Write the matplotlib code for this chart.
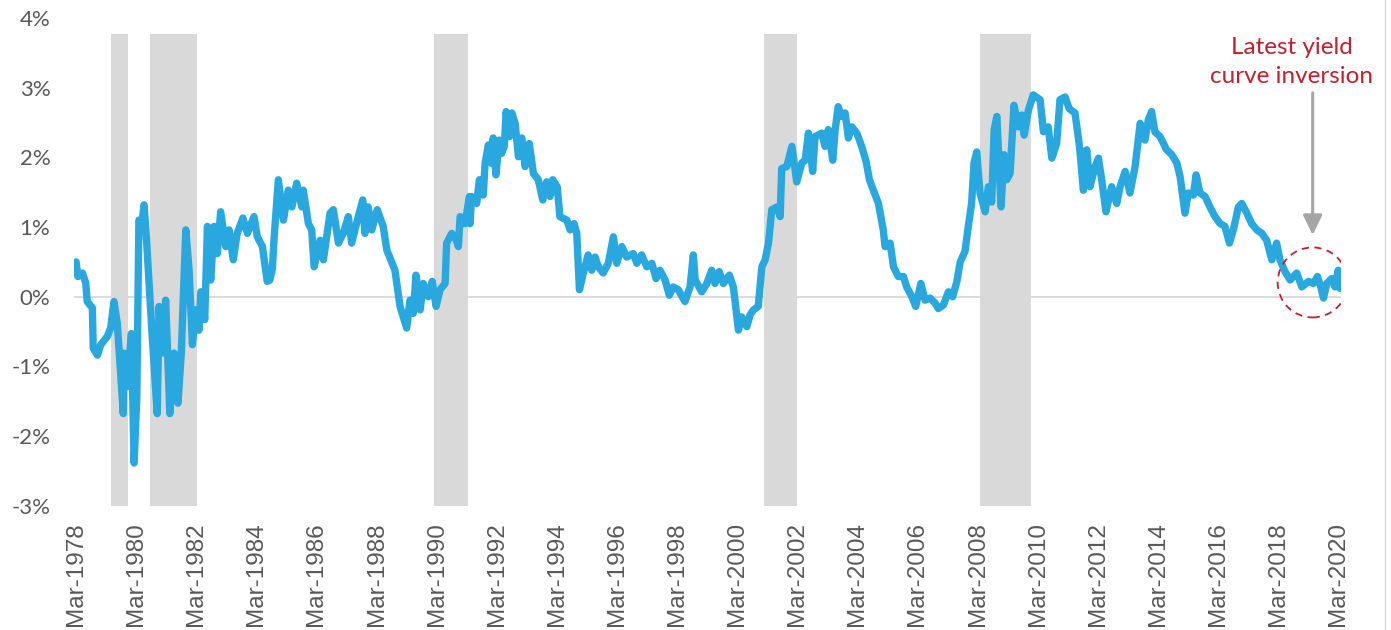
import matplotlib.pyplot as plt
from matplotlib.patches import Ellipse
from matplotlib.lines import Line2D
from matplotlib.ticker import FuncFormatter

# spread (%), x in decimal years
years = [
    1978.17, 1978.23, 1978.38, 1978.49, 1978.54, 1978.71, 1978.74, 1978.88, 1978.99, 1979.21,
    1979.32, 1979.43, 1979.54, 1979.60, 1979.74, 1979.76, 1979.87, 1980.01, 1980.10, 1980.19,
    1980.26, 1980.35, 1980.43, 1980.49, 1980.60, 1980.71, 1980.87, 1980.93, 1981.04, 1981.15,
    1981.29, 1981.43, 1981.56, 1981.67, 1981.82, 1981.93, 1982.04, 1982.15, 1982.26, 1982.32,
    1982.45, 1982.54, 1982.65, 1982.76, 1982.87, 1982.98, 1983.15, 1983.26, 1983.40, 1983.53,
    1983.72, 1983.87, 1984.09, 1984.20, 1984.37, 1984.53, 1984.62, 1984.70, 1984.76, 1984.90,
    1985.07, 1985.23, 1985.35, 1985.51, 1985.68, 1985.73, 1985.90, 1986.01, 1986.09, 1986.29,
    1986.40, 1986.62, 1986.73, 1986.90, 1987.06, 1987.23, 1987.34, 1987.56, 1987.71, 1987.78,
    1987.89, 1988.01, 1988.19, 1988.39, 1988.51, 1988.78, 1988.95, 1989.17, 1989.28, 1989.39,
    1989.48, 1989.62, 1989.72, 1989.89, 1990.02, 1990.15, 1990.28, 1990.45, 1990.50, 1990.67,
    1990.78, 1990.89, 1990.95, 1991.11, 1991.26, 1991.28, 1991.33, 1991.50, 1991.59, 1991.72,
    1991.78, 1991.89, 1991.97, 1992.05, 1992.14, 1992.25, 1992.33, 1992.42, 1992.48, 1992.59,
    1992.67, 1992.78, 1992.89, 1993.00, 1993.11, 1993.25, 1993.39, 1993.55, 1993.70, 1993.83,
    1993.94, 1994.03, 1994.18, 1994.27, 1994.50, 1994.61, 1994.74, 1994.83, 1994.92, 1995.05,
    1995.21, 1995.33, 1995.44, 1995.55, 1995.71, 1995.88, 1996.05, 1996.16, 1996.33, 1996.49,
    1996.71, 1996.83, 1996.99, 1997.16, 1997.33, 1997.47, 1997.60, 1997.77, 1997.91, 1998.04,
    1998.21, 1998.43, 1998.60, 1998.71, 1998.77, 1998.99, 1999.16, 1999.32, 1999.43, 1999.57,
    1999.71, 1999.91, 2000.04, 2000.10, 2000.21, 2000.32, 2000.49, 2000.60, 2000.71, 2000.87,
    2000.99, 2001.10, 2001.21, 2001.32, 2001.49, 2001.60, 2001.65, 2001.82, 2001.99, 2002.15,
    2002.32, 2002.43, 2002.54, 2002.68, 2002.76, 2002.98, 2003.09, 2003.20, 2003.35, 2003.43,
    2003.53, 2003.65, 2003.76, 2003.87, 2003.98, 2004.15, 2004.31, 2004.46, 2004.57, 2004.70,
    2004.87, 2005.03, 2005.09, 2005.26, 2005.37, 2005.53, 2005.70, 2005.81, 2005.98, 2006.11,
    2006.28, 2006.42, 2006.59, 2006.75, 2006.86, 2007.03, 2007.20, 2007.34, 2007.48, 2007.59,
    2007.75, 2007.86, 2007.97, 2008.05, 2008.14, 2008.25, 2008.42, 2008.53, 2008.64, 2008.72,
    2008.81, 2008.95, 2009.05, 2009.14, 2009.25, 2009.38, 2009.53, 2009.64, 2009.72, 2009.86,
    2010.02, 2010.25, 2010.36, 2010.52, 2010.64, 2010.80, 2010.91, 2011.08, 2011.22, 2011.41,
    2011.56, 2011.69, 2011.80, 2011.91, 2012.08, 2012.19, 2012.30, 2012.44, 2012.63, 2012.80,
    2012.91, 2013.08, 2013.24, 2013.41, 2013.58, 2013.74, 2013.85, 2013.96, 2014.07, 2014.24,
    2014.46, 2014.63, 2014.80, 2014.91, 2015.07, 2015.18, 2015.35, 2015.44, 2015.57, 2015.74,
    2015.90, 2016.07, 2016.24, 2016.40, 2016.55, 2016.68, 2016.85, 2016.96, 2017.13, 2017.29,
    2017.46, 2017.63, 2017.79, 2017.96, 2018.12, 2018.23, 2018.40, 2018.57, 2018.79, 2018.96,
    2019.18, 2019.34, 2019.48, 2019.59, 2019.68, 2019.79, 2019.95, 2020.06, 2020.17, 2020.23,
]
spread = [
    0.50, 0.29, 0.34, 0.20, -0.07, -0.16, -0.74, -0.84, -0.69, -0.57,
    -0.45, -0.07, -0.38, -0.77, -1.68, -0.81, -1.29, -0.53, -2.39, -1.44,
    1.10, 1.01, 1.32, 0.98, 0.19, -0.62, -1.68, -0.14, -0.81, -0.05,
    -1.68, -0.81, -1.53, -0.81, 0.96, 0.38, -0.69, -0.19, -0.48, 0.07,
    -0.33, 1.01, 0.24, 1.01, 0.62, 1.22, 0.72, 0.96, 0.53, 0.91,
    1.13, 0.91, 1.15, 0.86, 0.72, 0.22, 0.24, 0.40, 0.85, 1.68,
    1.10, 1.53, 1.29, 1.63, 1.29, 1.53, 1.05, 0.96, 0.43, 0.81,
    0.53, 1.20, 1.25, 0.77, 0.91, 1.15, 0.77, 1.15, 1.39, 0.91,
    1.29, 0.96, 1.25, 1.01, 0.67, 0.38, -0.14, -0.45, -0.05, -0.24,
    0.31, -0.19, 0.19, 0.00, 0.22, -0.14, 0.10, 0.19, 0.77, 0.91,
    0.86, 0.72, 1.15, 1.05, 1.44, 1.05, 1.44, 1.34, 1.68, 1.46,
    1.92, 2.18, 1.92, 2.28, 1.75, 2.25, 2.06, 2.16, 2.66, 2.30,
    2.64, 2.49, 2.01, 2.28, 1.87, 2.20, 1.77, 1.68, 1.39, 1.65,
    1.44, 1.68, 1.58, 1.15, 1.10, 0.96, 1.05, 0.91, 0.10, 0.34,
    0.60, 0.38, 0.57, 0.43, 0.34, 0.48, 0.86, 0.48, 0.72, 0.57,
    0.62, 0.48, 0.60, 0.43, 0.48, 0.26, 0.38, 0.24, 0.02, 0.14,
    0.10, -0.07, 0.14, 0.60, 0.24, 0.07, 0.19, 0.38, 0.19, 0.36,
    0.19, 0.31, 0.14, -0.07, -0.48, -0.29, -0.43, -0.26, -0.19, -0.14,
    0.43, 0.53, 0.77, 1.25, 1.29, 1.15, 1.84, 1.87, 2.16, 1.65,
    1.92, 1.96, 2.35, 1.80, 2.30, 2.35, 2.16, 2.40, 1.96, 2.40,
    2.73, 2.59, 2.64, 2.28, 2.44, 2.35, 2.16, 1.94, 1.68, 1.53,
    1.34, 0.96, 0.72, 0.77, 0.43, 0.29, 0.29, 0.14, 0.00, -0.14,
    0.19, -0.05, -0.02, -0.09, -0.17, -0.12, 0.07, 0.00, 0.22, 0.50,
    0.65, 1.01, 1.34, 1.92, 2.08, 1.49, 1.22, 1.58, 1.36, 2.40,
    2.59, 1.29, 2.04, 1.68, 1.77, 2.75, 2.44, 2.61, 2.32, 2.68,
    2.90, 2.83, 2.37, 2.44, 1.99, 2.20, 2.83, 2.87, 2.70, 2.64,
    2.16, 1.53, 2.11, 1.58, 1.87, 1.99, 1.68, 1.22, 1.58, 1.34,
    1.58, 1.80, 1.49, 1.87, 2.49, 2.25, 2.54, 2.66, 2.37, 2.30,
    2.11, 2.04, 1.92, 1.72, 1.20, 1.49, 1.46, 1.75, 1.49, 1.44,
    1.29, 1.15, 1.05, 1.01, 0.77, 0.96, 1.29, 1.34, 1.20, 1.05,
    0.96, 0.91, 0.81, 0.53, 0.77, 0.53, 0.36, 0.24, 0.34, 0.14,
    0.22, 0.19, 0.29, 0.14, -0.02, 0.19, 0.26, 0.14, 0.38, 0.12,
]

recessions = [(1979.33, 1979.90), (1980.63, 1982.20), (1990.09, 1991.20),
              (2001.07, 2002.17), (2008.26, 2009.94)]
recession_top = 3.77

tick_labels = ['Mar-1978', 'Mar-1980', 'Mar-1982', 'Mar-1984', 'Mar-1986', 'Mar-1988',
               'Mar-1990', 'Mar-1992', 'Mar-1994', 'Mar-1996', 'Mar-1998', 'Mar-2000',
               'Mar-2002', 'Mar-2004', 'Mar-2006', 'Mar-2008', 'Mar-2010', 'Mar-2012',
               'Mar-2014', 'Mar-2016', 'Mar-2018', 'Mar-2020']
y_ticks = [-3, -2, -1, 0, 1, 2, 3, 4]

fig = plt.figure(figsize=(13.91, 6.30), dpi=100)
ax = fig.add_axes([0.0532, 0.1976, 0.9108, 0.7734])
ax.set_xlim(1978.10, 2020.26)
ax.set_ylim(-3, 4)

for a, b in recessions:
    ax.axvspan(a, b, ymin=0, ymax=(recession_top + 3) / 7, color='#D9D9D9', lw=0, zorder=0)
ax.axhline(0, color='#D9D9D9', lw=1.3, zorder=1)

ax.plot(years, spread, color='#29A8E0', lw=5.3, solid_joinstyle='round',
        solid_capstyle='round', zorder=3)

# ticks
ax.set_yticks(y_ticks)
ax.yaxis.set_major_formatter(FuncFormatter(lambda v, p: f'{v:.0f}%'))
ax.set_xticks([int(s[-4:]) + 2 / 12 for s in tick_labels])
ax.set_xticklabels(tick_labels, rotation=90, family='Liberation Sans', fontsize=17.5,
                   color='#595959')
for t in ax.get_yticklabels():
    t.set_family('Lato')
    t.set_fontsize(16)
    t.set_color('#595959')
ax.tick_params(axis='y', length=0, pad=17)
ax.tick_params(axis='x', length=0, pad=12)
for s in ax.spines.values():
    s.set_visible(False)

# annotation
red = '#C3202F'
ax.text(2018.62, 3.37, 'Latest yield\ncurve inversion', ha='center', va='center',
        color=red, family='Lato', fontsize=17.5, linespacing=1.5)
ax.annotate('', xy=(2019.32, 0.886), xytext=(2019.32, 2.93),
            arrowprops=dict(arrowstyle='-|>,head_length=0.6,head_width=0.29',
                            color='#A5A5A5', lw=2.2, mutation_scale=20,
                            shrinkA=0, shrinkB=0), zorder=4)
ax.add_patch(Ellipse((2019.32, 0.205), 2.33, 1.006, fill=False, ec=red, lw=1.3,
                     ls=(0, (4, 3)), zorder=4))

fig.add_artist(Line2D([1385 / 1391] * 2, [0, 1], color='#D9D9D9', lw=1,
                      transform=fig.transFigure))

fig.savefig('out.png', dpi=100)
